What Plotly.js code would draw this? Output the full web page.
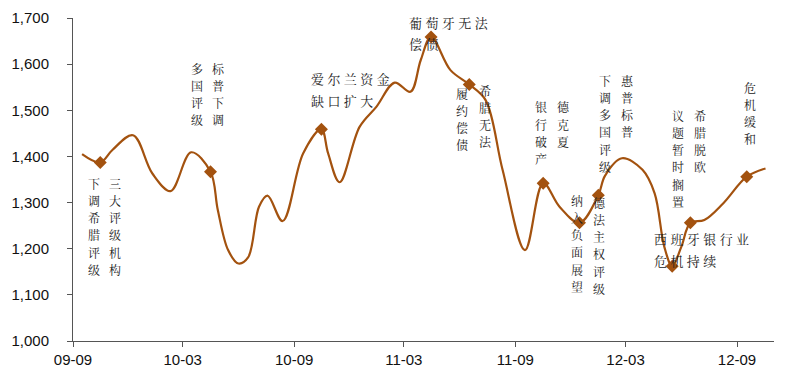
<!DOCTYPE html>
<html>
<head>
<meta charset="utf-8">
<script src="https://cdn.plot.ly/plotly-3.0.1.min.js"></script>
<style>html,body{margin:0;padding:0;background:#fff;}#chart{width:800px;height:382px;}</style>
</head>
<body>
<div id="chart"></div>
<script>
// Line series
const dates = ["2009-09-16","2009-10-16","2009-11-05","2009-12-09","2010-01-10","2010-02-09","2010-03-15","2010-04-16","2010-04-28","2010-05-15","2010-06-01","2010-06-17","2010-07-05","2010-07-19","2010-08-13","2010-09-16","2010-10-16","2010-10-27","2010-11-15","2010-12-18","2011-01-15","2011-02-14","2011-03-12","2011-03-29","2011-04-15","2011-05-17","2011-06-17","2011-07-14","2011-08-11","2011-09-17","2011-10-17","2011-11-13","2011-12-16","2012-01-16","2012-01-27","2012-02-24","2012-03-29","2012-04-18","2012-05-04","2012-05-17","2012-06-01","2012-06-16","2012-07-09","2012-08-09","2012-09-17","2012-10-18"];
const values = [1405,1387,1414,1446,1363,1325,1409,1367,1284,1197,1168,1181,1291,1315,1260,1407,1459,1407,1344,1464,1508,1560,1540,1609,1659,1587,1556,1522,1371,1197,1342,1291,1256,1316,1358,1396,1371,1320,1204,1162,1204,1256,1262,1298,1356,1374];
// Event markers
const eventDates = ["2009-10-16","2010-04-16","2010-10-16","2011-04-15","2011-06-17","2011-10-17","2011-12-16","2012-01-16","2012-05-17","2012-06-16","2012-09-17"];
const eventValues = [1387,1367,1459,1659,1556,1342,1256,1316,1162,1256,1356];
// Tick labels
const yTicks = [1000,1100,1200,1300,1400,1500,1600,1700];
const xTickVals = ["2009-09-01","2010-03-01","2010-09-01","2011-03-01","2011-09-01","2012-03-01","2012-09-01"];
const xTickText = ["09-09","10-03","10-09","11-03","11-09","12-03","12-09"];
// Vertical labels (columns) and horizontal labels
const vLabels = ["下调希腊评级","三大评级机构","多国评级","标普下调","履约偿债","希腊无法","银行破产","德克夏","下调多国评级","惠普标普","纳入负面展望","德法主权评级","议题暂时搁置","希腊脱欧","危机缓和"];
const hLabels = ["爱尔兰资金","缺口扩大","葡萄牙无法","偿债","西班牙银行业","危机持续"];

// layout positions (pixels on the page): column centre x, first character centre y
const vPos = [[94,183],[115,183],[197,68],[218,68],[462,93],[485,90],[541,107],[563,107],[605,80],[627,80],[577,200],[599,202],[678,115],[700,115],[750,87]];
const hPos = [[311,79],[311,100],[409,22],[409,43],[654,238],[654,260]];
const pitch = 17.3;

const L = 73, R = 774, T = 18, B = 341;
const px = x => (x - L) / (R - L);
const py = y => (B - y) / (B - T);
const cjk = '"Noto Serif CJK SC", "Noto Sans CJK SC", sans-serif';
const col = "#A3520F";

const annotations = [];
vLabels.forEach((t, i) => {
  Array.from(t).forEach((ch, k) => {
    annotations.push({
      xref: "paper", yref: "paper", x: px(vPos[i][0]), y: py(vPos[i][1] + k * pitch),
      xanchor: "center", yanchor: "middle", showarrow: false,
      text: ch, font: {family: cjk, size: 12, color: "#222"}, borderpad: 0, borderwidth: 0
    });
  });
});
hLabels.forEach((t, i) => {
  annotations.push({
    xref: "paper", yref: "paper", x: px(hPos[i][0]), y: py(hPos[i][1]),
    xanchor: "left", yanchor: "middle", showarrow: false,
    text: Array.from(t).join("\u2009\u200A"), align: "left",
    font: {family: cjk, size: 13, color: "#222"}, borderpad: 0, borderwidth: 0
  });
});

const traces = [
  {x: dates, y: values, type: "scatter", mode: "lines",
   line: {color: col, width: 2.2, shape: "spline", smoothing: 1}, hoverinfo: "skip"},
  {x: eventDates, y: eventValues, type: "scatter", mode: "markers",
   marker: {symbol: "diamond", size: 10, color: col}, hoverinfo: "skip"}
];

const layout = {
  width: 800, height: 382,
  margin: {l: L, r: 800 - R, t: T, b: 382 - B, pad: 0},
  paper_bgcolor: "#fff", plot_bgcolor: "#fff",
  showlegend: false,
  font: {family: '"Liberation Sans", Arial, sans-serif', size: 15, color: "#111"},
  xaxis: {
    type: "date", range: ["2009-09-01", "2012-11-01"],
    tickmode: "array", tickvals: xTickVals, ticktext: xTickText,
    showgrid: false, zeroline: false, showline: true, linecolor: "#555", linewidth: 1,
    ticks: "outside", ticklen: 5, tickcolor: "#555", tickwidth: 1,
    tickfont: {size: 15, color: "#111"}
  },
  yaxis: {
    range: [1000, 1700], tickmode: "array", tickvals: yTicks, tickformat: ",",
    showgrid: false, zeroline: false, showline: true, linecolor: "#555", linewidth: 1,
    ticks: "outside", ticklen: 5, tickcolor: "#555", tickwidth: 1,
    ticklabelstandoff: 15,
    tickfont: {size: 15, color: "#111"}
  },
  annotations: annotations
};

Plotly.newPlot("chart", traces, layout, {displayModeBar: false, staticPlot: true});
</script>
</body>
</html>
